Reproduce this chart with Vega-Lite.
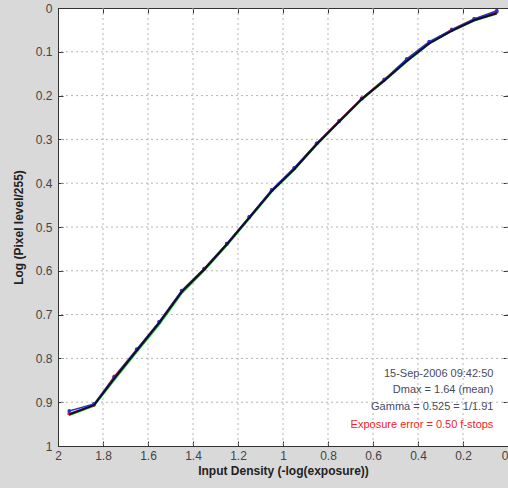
{
  "$schema": "https://vega.github.io/schema/vega-lite/v6.json",
  "width": 450,
  "height": 438,
  "autosize": "none",
  "padding": {"left": 58, "top": 8, "right": 0, "bottom": 42},
  "background": "#d9d9d9",
  "config": {
    "font": "Liberation Sans",
    "view": {"fill": "white", "stroke": "#333333", "strokeWidth": 1},
    "axis": {
      "labelFont": "Liberation Sans",
      "titleFont": "Liberation Sans",
      "labelFontSize": 12,
      "labelColor": "#444444",
      "titleFontSize": 12,
      "titleFontWeight": "bold",
      "titleColor": "#222222",
      "domainColor": "#333333",
      "tickColor": "#333333",
      "grid": false
    }
  },
  "datasets": {
    "gridx": [{"v": 0.2}, {"v": 0.4}, {"v": 0.6}, {"v": 0.8}, {"v": 1.0}, {"v": 1.2}, {"v": 1.4}, {"v": 1.6}, {"v": 1.8}],
    "gridy": [{"v": 0.1}, {"v": 0.2}, {"v": 0.3}, {"v": 0.4}, {"v": 0.5}, {"v": 0.6}, {"v": 0.7}, {"v": 0.8}, {"v": 0.9}],
    "curve": [
      {"s": "black", "x": 1.95, "y": 0.928}, {"s": "black", "x": 1.84, "y": 0.907}, {"s": "black", "x": 1.75, "y": 0.846}, {"s": "black", "x": 1.65, "y": 0.782}, {"s": "black", "x": 1.55, "y": 0.719}, {"s": "black", "x": 1.45, "y": 0.648}, {"s": "black", "x": 1.35, "y": 0.597}, {"s": "black", "x": 1.25, "y": 0.540}, {"s": "black", "x": 1.15, "y": 0.479}, {"s": "black", "x": 1.05, "y": 0.418}, {"s": "black", "x": 0.95, "y": 0.368}, {"s": "black", "x": 0.85, "y": 0.311}, {"s": "black", "x": 0.75, "y": 0.259}, {"s": "black", "x": 0.65, "y": 0.208}, {"s": "black", "x": 0.55, "y": 0.166}, {"s": "black", "x": 0.45, "y": 0.121}, {"s": "black", "x": 0.35, "y": 0.081}, {"s": "black", "x": 0.25, "y": 0.052}, {"s": "black", "x": 0.15, "y": 0.028}, {"s": "black", "x": 0.05, "y": 0.012},
      {"s": "green", "x": 1.95, "y": 0.930}, {"s": "green", "x": 1.84, "y": 0.909}, {"s": "green", "x": 1.75, "y": 0.850}, {"s": "green", "x": 1.65, "y": 0.786}, {"s": "green", "x": 1.55, "y": 0.723}, {"s": "green", "x": 1.45, "y": 0.652}, {"s": "green", "x": 1.35, "y": 0.600}, {"s": "green", "x": 1.25, "y": 0.543}, {"s": "green", "x": 1.15, "y": 0.482}, {"s": "green", "x": 1.05, "y": 0.420}, {"s": "green", "x": 0.95, "y": 0.370}, {"s": "green", "x": 0.85, "y": 0.313}, {"s": "green", "x": 0.75, "y": 0.261}, {"s": "green", "x": 0.65, "y": 0.210}, {"s": "green", "x": 0.55, "y": 0.167}, {"s": "green", "x": 0.45, "y": 0.123}, {"s": "green", "x": 0.35, "y": 0.082}, {"s": "green", "x": 0.25, "y": 0.053}, {"s": "green", "x": 0.15, "y": 0.029}, {"s": "green", "x": 0.05, "y": 0.014},
      {"s": "red", "x": 1.95, "y": 0.926}, {"s": "red", "x": 1.84, "y": 0.906}, {"s": "red", "x": 1.75, "y": 0.841}, {"s": "red", "x": 1.65, "y": 0.780}, {"s": "red", "x": 1.55, "y": 0.717}, {"s": "red", "x": 1.45, "y": 0.646}, {"s": "red", "x": 1.35, "y": 0.595}, {"s": "red", "x": 1.25, "y": 0.538}, {"s": "red", "x": 1.15, "y": 0.477}, {"s": "red", "x": 1.05, "y": 0.416}, {"s": "red", "x": 0.95, "y": 0.366}, {"s": "red", "x": 0.85, "y": 0.309}, {"s": "red", "x": 0.75, "y": 0.257}, {"s": "red", "x": 0.65, "y": 0.206}, {"s": "red", "x": 0.55, "y": 0.163}, {"s": "red", "x": 0.45, "y": 0.119}, {"s": "red", "x": 0.35, "y": 0.079}, {"s": "red", "x": 0.25, "y": 0.049}, {"s": "red", "x": 0.15, "y": 0.025}, {"s": "red", "x": 0.05, "y": 0.009},
      {"s": "blue", "x": 1.95, "y": 0.920}, {"s": "blue", "x": 1.84, "y": 0.904}, {"s": "blue", "x": 1.75, "y": 0.843}, {"s": "blue", "x": 1.65, "y": 0.779}, {"s": "blue", "x": 1.55, "y": 0.716}, {"s": "blue", "x": 1.45, "y": 0.645}, {"s": "blue", "x": 1.35, "y": 0.595}, {"s": "blue", "x": 1.25, "y": 0.538}, {"s": "blue", "x": 1.15, "y": 0.477}, {"s": "blue", "x": 1.05, "y": 0.415}, {"s": "blue", "x": 0.95, "y": 0.365}, {"s": "blue", "x": 0.85, "y": 0.309}, {"s": "blue", "x": 0.75, "y": 0.258}, {"s": "blue", "x": 0.65, "y": 0.207}, {"s": "blue", "x": 0.55, "y": 0.164}, {"s": "blue", "x": 0.45, "y": 0.116}, {"s": "blue", "x": 0.35, "y": 0.077}, {"s": "blue", "x": 0.25, "y": 0.050}, {"s": "blue", "x": 0.15, "y": 0.025}, {"s": "blue", "x": 0.05, "y": 0.006}
    ],
    "notes": [
      {"x": 0.065, "y": 0.836, "t": "15-Sep-2006 09:42:50", "k": "info"},
      {"x": 0.065, "y": 0.873, "t": "Dmax = 1.64 (mean)", "k": "info"},
      {"x": 0.065, "y": 0.910, "t": "Gamma = 0.525 = 1/1.91", "k": "info"},
      {"x": 0.065, "y": 0.951, "t": "Exposure error = 0.50 f-stops", "k": "err"}
    ]
  },
  "resolve": {"axis": {"x": "independent", "y": "independent"}, "scale": {"color": "independent"}},
  "layer": [
    {
      "data": {"name": "gridx"},
      "mark": {"type": "rule", "color": "#b4b4b4", "strokeDash": [2, 3], "strokeWidth": 1},
      "encoding": {
        "x": {"field": "v", "type": "quantitative", "scale": {"domain": [0, 2], "reverse": true, "nice": false},
          "axis": {"title": "Input Density (-log(exposure))", "values": [0, 0.2, 0.4, 0.6, 0.8, 1, 1.2, 1.4, 1.6, 1.8, 2], "format": "~g", "tickSize": -5, "labelPadding": 9, "titlePadding": 4, "labelFlush": false,
            "labelAlign": {"condition": {"test": "datum.value === 0", "value": "right"}, "value": "center"}}}
      }
    },
    {
      "data": {"name": "gridy"},
      "mark": {"type": "rule", "color": "#b4b4b4", "strokeDash": [2, 3], "strokeWidth": 1},
      "encoding": {
        "y": {"field": "v", "type": "quantitative", "scale": {"domain": [0, 1], "reverse": true, "nice": false},
          "axis": {"title": "Log (Pixel level/255)", "values": [0, 0.1, 0.2, 0.3, 0.4, 0.5, 0.6, 0.7, 0.8, 0.9, 1], "format": "~g", "tickSize": -5, "labelPadding": 11, "titlePadding": 10, "labelFlush": false}}
      }
    },
    {
      "data": {"name": "curve"},
      "transform": [{"filter": "datum.s === 'green'"}],
      "mark": {"type": "line", "strokeWidth": 1.5, "color": "#22cc44"},
      "encoding": {
        "x": {"field": "x", "type": "quantitative", "scale": {"domain": [0, 2], "reverse": true, "nice": false}, "axis": null},
        "y": {"field": "y", "type": "quantitative", "scale": {"domain": [0, 1], "reverse": true, "nice": false}, "axis": null}
      }
    },
    {
      "data": {"name": "curve"},
      "transform": [{"filter": "datum.s === 'red'"}],
      "mark": {"type": "line", "strokeWidth": 1.5, "color": "#dd2222", "point": {"filled": true, "size": 14, "color": "#dd2222"}},
      "encoding": {
        "x": {"field": "x", "type": "quantitative", "scale": {"domain": [0, 2], "reverse": true, "nice": false}, "axis": null},
        "y": {"field": "y", "type": "quantitative", "scale": {"domain": [0, 1], "reverse": true, "nice": false}, "axis": null}
      }
    },
    {
      "data": {"name": "curve"},
      "transform": [{"filter": "datum.s === 'blue'"}],
      "mark": {"type": "line", "strokeWidth": 1.5, "color": "#2233dd", "point": {"filled": true, "size": 14, "color": "#2233dd"}},
      "encoding": {
        "x": {"field": "x", "type": "quantitative", "scale": {"domain": [0, 2], "reverse": true, "nice": false}, "axis": null},
        "y": {"field": "y", "type": "quantitative", "scale": {"domain": [0, 1], "reverse": true, "nice": false}, "axis": null}
      }
    },
    {
      "data": {"name": "curve"},
      "transform": [{"filter": "datum.s === 'black'"}],
      "mark": {"type": "line", "strokeWidth": 2, "color": "#111111"},
      "encoding": {
        "x": {"field": "x", "type": "quantitative", "scale": {"domain": [0, 2], "reverse": true, "nice": false},
          "axis": {"orient": "top", "title": null, "labels": false, "tickSize": -5, "values": [0, 0.2, 0.4, 0.6, 0.8, 1, 1.2, 1.4, 1.6, 1.8, 2]}},
        "y": {"field": "y", "type": "quantitative", "scale": {"domain": [0, 1], "reverse": true, "nice": false},
          "axis": {"orient": "right", "title": null, "labels": false, "tickSize": -5, "values": [0, 0.1, 0.2, 0.3, 0.4, 0.5, 0.6, 0.7, 0.8, 0.9, 1]}}
      }
    },
    {
      "data": {"name": "notes"},
      "mark": {"type": "text", "align": "right", "baseline": "middle", "fontSize": 11, "font": "Liberation Sans"},
      "encoding": {
        "x": {"field": "x", "type": "quantitative", "scale": {"domain": [0, 2], "reverse": true, "nice": false}, "axis": null},
        "y": {"field": "y", "type": "quantitative", "scale": {"domain": [0, 1], "reverse": true, "nice": false}, "axis": null},
        "text": {"field": "t"},
        "color": {"field": "k", "type": "nominal", "scale": {"domain": ["info", "err"], "range": ["#4a4a5e", "#e02a2a"]}, "legend": null}
      }
    }
  ]
}
